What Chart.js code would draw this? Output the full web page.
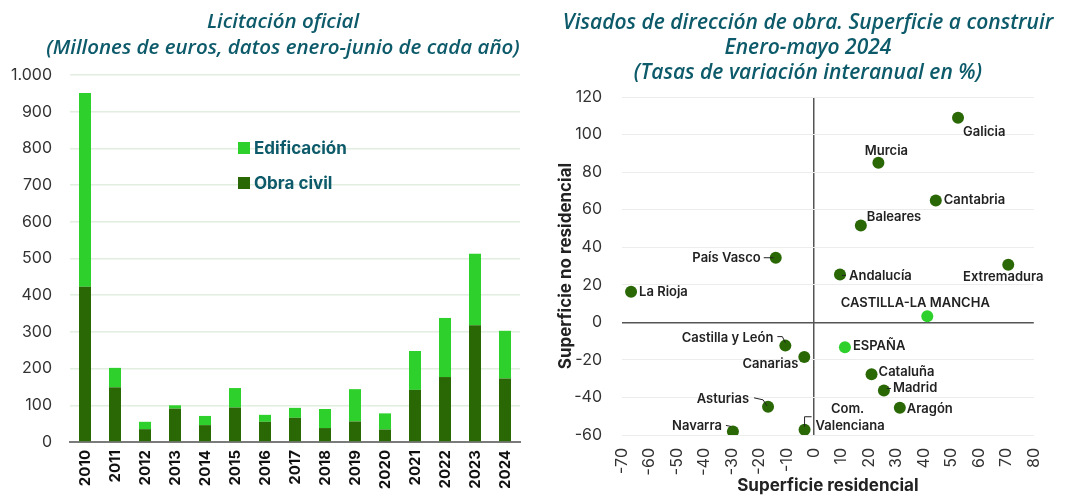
<!DOCTYPE html>
<html><head><meta charset="utf-8">
<script src="https://cdn.jsdelivr.net/npm/chart.js@4.4.1/dist/chart.umd.min.js"></script>
<style>
html,body{margin:0;padding:0;background:#fff;width:1066px;height:496px;overflow:hidden;font-family:Inter,sans-serif}
.t{position:absolute;color:#0d5a6a;font-family:'Open Sans',sans-serif;font-style:italic;font-weight:600;font-size:20.5px;text-align:center;white-space:nowrap}
#w1{position:absolute;left:0;top:0;width:540px;height:496px}
#w2{position:absolute;left:540px;top:0;width:526px;height:496px}
</style></head>
<body>
<div id="w1"><canvas id="c1" width="540" height="496"></canvas></div>
<div id="w2"><canvas id="c2" width="526" height="496"></canvas></div>
<div class="t" style="left:0;width:566px;top:7px;line-height:26px">Licitación oficial<br>(Millones de euros, datos enero-junio de cada año)</div>
<div class="t" style="left:550px;width:516px;top:9px;line-height:25px;font-size:21px">Visados de dirección de obra. Superficie a construir<br>Enero-mayo 2024<br>(Tasas de variación interanual en %)</div>
<script>
// ---- Left chart data ----
const years = ['2010','2011','2012','2013','2014','2015','2016','2017','2018','2019','2020','2021','2022','2023','2024'];
const obraCivil = [423,149,35,91,46,94,55,66,38,56,34,142,177,318,173];
const edificacion = [528,53,20,9,25,53,19,27,52,88,44,106,161,195,130];
const seriesNames = ['Edificación','Obra civil'];

// ---- Right chart data ----
const regions = ['Galicia','Murcia','Cantabria','Baleares','Andalucía','Extremadura','País Vasco','La Rioja','CASTILLA-LA MANCHA','ESPAÑA','Cataluña','Madrid','Aragón','Com. Valenciana','Castilla y León','Canarias','Asturias','Navarra'];
const residencial = [52.4,23.4,44.3,17.0,9.4,70.7,-14.0,-66.7,41.2,11.2,20.9,25.4,31.2,-3.5,-10.5,-3.6,-16.8,-29.6];
const noResidencial = [109,85,64.9,51.6,25.5,30.7,34.4,16.3,3.2,-13.3,-27.7,-36.3,-45.5,-57.2,-12.4,-18.4,-45,-58.1];
const highlighted = ['CASTILLA-LA MANCHA','ESPAÑA'];

const DARK = '#2a6806', BRIGHT = '#2ed12c', TEAL = '#0d5a6a';

function fmt(v){ return v>=1000 ? Math.floor(v/1000)+'.'+String(v%1000).padStart(3,'0') : String(v); }

const legendPlugin = {
  id:'inlegend',
  afterDraw(chart){
    const ctx = chart.ctx;
    const items = [[BRIGHT, seriesNames[0], 148],[DARK, seriesNames[1], 183]];
    ctx.save();
    ctx.font = 'bold 17px Inter';
    ctx.textBaseline = 'middle';
    items.forEach(([c,t,y])=>{
      ctx.fillStyle = c; ctx.fillRect(238, y-6, 12, 12);
      ctx.fillStyle = TEAL; ctx.fillText(t, 254, y+1);
    });
    ctx.restore();
  }
};

new Chart(document.getElementById('c1'), {
  type:'bar',
  data:{labels:years, datasets:[
    {label:seriesNames[1], data:obraCivil, backgroundColor:DARK, barPercentage:0.8, categoryPercentage:0.5},
    {label:seriesNames[0], data:edificacion, backgroundColor:BRIGHT, barPercentage:0.8, categoryPercentage:0.5}
  ]},
  options:{
    responsive:false, animation:false,
    layout:{padding:{top:75,right:20,left:0,bottom:0}},
    plugins:{legend:{display:false}, tooltip:{enabled:false}},
    scales:{
      x:{stacked:true, grid:{display:false, drawTicks:false}, border:{color:'#7a7a7a', width:2},
         ticks:{minRotation:90, maxRotation:90, padding:8, color:'#111', font:{family:'Inter', size:15, weight:'bold'}},
         afterFit(s){ s.height = 54; }},
      y:{stacked:true, min:0, max:1000,
         ticks:{stepSize:100, padding:18, color:'#333', font:{family:'Inter', size:16}, callback:v=>fmt(v)},
         grid:{color:'#e2eee0', lineWidth:1.5, drawTicks:false}, border:{display:false},
         afterFit(s){ s.width = 70; }}
    }
  },
  plugins:[legendPlugin]
});

// label placement (style): [dx, dy, align, leader path]
const placement = {
  'Galicia':[5,14,'left'], 'Murcia':[8,-12,'center'], 'Cantabria':[8,0,'left'], 'Baleares':[6,-8,'left'],
  'Andalucía':[9,2,'left',[[2,1],[6,1]]], 'Extremadura':[-5,12,'center'],
  'País Vasco':[-15,0,'right',[[-12,0],[-2,0]]], 'La Rioja':[8,0,'left'],
  'CASTILLA-LA MANCHA':[-12,-13,'center'], 'ESPAÑA':[8,-1,'left'], 'Cataluña':[7,-2,'left'],
  'Madrid':[9,-2,'left',[[3,-2],[7,-2]]], 'Aragón':[7,1,'left'],
  'Castilla y León':[-12,-8,'right',[[-8,-9],[-3,-9],[0,-3]]], 'Canarias':[-6,7,'right'],
  'Asturias':[-19,-8,'right',[[-14,-9],[-5,-7],[-1,-1]]], 'Navarra':[-11,-5,'right',[[-7,-6],[-2,-5]]]
};

const labelPlugin = {
  id:'ptlabels',
  afterDatasetsDraw(chart){
    const ctx = chart.ctx;
    const meta = chart.getDatasetMeta(0);
    ctx.save();
    ctx.font = '600 13px Inter';
    ctx.fillStyle = '#222';
    ctx.strokeStyle = '#222';
    ctx.lineWidth = 1;
    ctx.textBaseline = 'middle';
    regions.forEach((name,i)=>{
      const p = meta.data[i];
      if (name === 'Com. Valenciana'){
        ctx.textAlign = 'center'; ctx.fillText('Com.', p.x+43, p.y-21);
        ctx.textAlign = 'left'; ctx.fillText('Valenciana', p.x+11, p.y-4);
        ctx.beginPath(); ctx.moveTo(p.x, p.y-3); ctx.lineTo(p.x, p.y-13); ctx.lineTo(p.x+7, p.y-13); ctx.stroke();
        return;
      }
      const [dx,dy,al,lead] = placement[name];
      ctx.textAlign = al;
      ctx.fillText(name, p.x+dx, p.y+dy);
      if (lead){
        ctx.beginPath();
        lead.forEach(([lx,ly],k)=>{ k? ctx.lineTo(p.x+lx,p.y+ly) : ctx.moveTo(p.x+lx,p.y+ly); });
        ctx.stroke();
      }
    });
    ctx.restore();
  }
};

new Chart(document.getElementById('c2'), {
  type:'scatter',
  data:{datasets:[{
    data: regions.map((r,i)=>({x:residencial[i], y:noResidencial[i]})),
    pointRadius:6, pointBorderWidth:0,
    pointBackgroundColor: regions.map(r=>highlighted.includes(r)?BRIGHT:DARK)
  }]},
  options:{
    responsive:false, animation:false,
    layout:{padding:{top:97,right:29,left:0,bottom:0}},
    plugins:{legend:{display:false}, tooltip:{enabled:false}},
    scales:{
      x:{type:'linear', min:-70, max:80,
         ticks:{stepSize:10, minRotation:90, maxRotation:90, padding:13, color:'#333', font:{family:'Inter', size:16}},
         grid:{drawTicks:false, color:c=>c.tick && c.tick.value===0 ? '#555' : 'rgba(0,0,0,0)', lineWidth:1.5},
         border:{display:false},
         title:{display:true, text:'Superficie residencial', color:'#222', font:{family:'Inter', size:17, weight:'bold'}, padding:0},
         afterFit(s){ s.height = 61; }},
      y:{min:-60, max:120,
         ticks:{stepSize:20, padding:20, color:'#333', font:{family:'Inter', size:16}},
         grid:{drawTicks:false, color:c=>c.tick && c.tick.value===0 ? '#555' : '#ececec', lineWidth:c=>c.tick && c.tick.value===0 ? 1.5 : 1},
         border:{display:false},
         title:{display:true, text:'Superficie no residencial', color:'#222', font:{family:'Inter', size:17, weight:'bold'}, padding:{top:16,bottom:0}},
         afterFit(s){ s.width = 82; }}
    }
  },
  plugins:[labelPlugin]
});
</script>
</body></html>
